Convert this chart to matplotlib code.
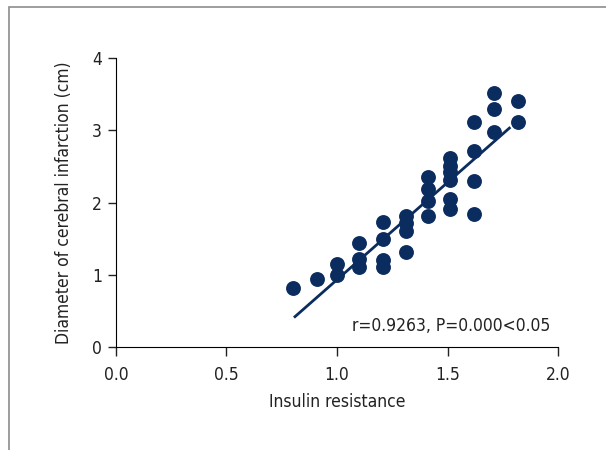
import matplotlib
matplotlib.use("Agg")
import matplotlib.pyplot as plt
from matplotlib.patches import Rectangle

plt.rcParams['font.family'] = ['DejaVu Sans']
plt.rcParams['font.stretch'] = 'condensed'

# insulin resistance vs infarct diameter
ir = [0.80, 0.91, 1.00, 1.00, 1.10, 1.10, 1.10, 1.21, 1.21, 1.21, 1.21,
      1.31, 1.31, 1.31, 1.31, 1.41, 1.41, 1.41, 1.41,
      1.51, 1.51, 1.51, 1.51, 1.51, 1.51,
      1.62, 1.62, 1.62, 1.62, 1.71, 1.71, 1.71, 1.82, 1.82]
diam = [0.82, 0.94, 1.15, 1.00, 1.44, 1.22, 1.11, 1.73, 1.49, 1.21, 1.11,
        1.81, 1.71, 1.60, 1.32, 2.35, 2.19, 2.02, 1.81,
        2.62, 2.50, 2.42, 2.31, 2.05, 1.91,
        3.11, 2.71, 2.30, 1.84, 3.51, 3.29, 2.97, 3.41, 3.11]
fit_x = [0.81, 1.78]
fit_y = [0.42, 3.03]
stat_text = "r=0.9263, P=0.000<0.05"

navy = '#0b2c5f'
txt = '#222222'
fs = 12.5

fig = plt.figure(figsize=(6.06, 4.5), dpi=100)
ax = fig.add_axes([0.1914, 0.2289, 0.7294, 0.6422])

# grey frame around the panel
fig.patches.append(Rectangle((9 / 606, -0.1), 1.2, 1 - 7 / 450 + 0.1,
                             transform=fig.transFigure, fill=False,
                             edgecolor='#8c8c8c', linewidth=1.2))

ax.plot(fit_x, fit_y, color=navy, linewidth=2, zorder=2)
ax.scatter(ir, diam, s=115, color=navy, zorder=3, linewidths=0)

ax.text(1.965, 0.29, stat_text, ha='right', va='center', fontsize=fs, color=txt)

ax.set_xlim(0, 2.0)
ax.set_ylim(0, 4)
ax.set_xticks([0.0, 0.5, 1.0, 1.5, 2.0])
ax.set_xticklabels(['0.0', '0.5', '1.0', '1.5', '2.0'])
ax.set_yticks([0, 1, 2, 3, 4])
ax.spines['top'].set_visible(False)
ax.spines['right'].set_visible(False)
ax.tick_params(axis='x', length=6.5, width=1, labelsize=fs, pad=7, colors=txt)
ax.tick_params(axis='y', length=6, width=1, labelsize=fs, pad=4, colors=txt)
ax.set_xlabel("Insulin resistance", fontsize=fs, labelpad=7, color=txt)
ax.set_ylabel("Diameter of cerebral infarction (cm)", fontsize=fs, labelpad=14, color=txt)
ax.patch.set_visible(False)

fig.savefig("out.png", dpi=100)
